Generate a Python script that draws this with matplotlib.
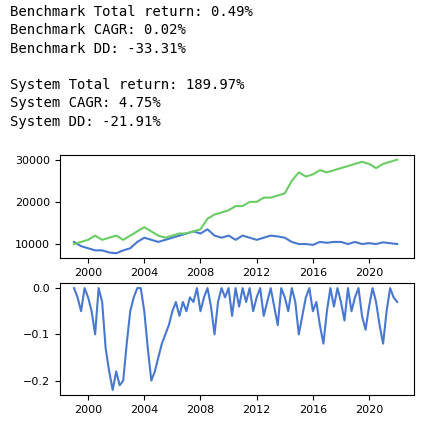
import matplotlib
matplotlib.use("Agg")
import matplotlib.pyplot as plt
import numpy as np

years = [1999 + 0.5*i for i in range(47)]
system = [10000,10500,11000,12000,11000,11500,12000,11000,12000,13000,14000,13000,12000,11500,12000,12500,
          12500,13000,13500,16000,17000,17500,18000,19000,19000,20000,20000,21000,21000,21500,22000,25000,
          27000,26000,26500,27500,27000,27500,28000,28500,29000,29500,29000,28000,29000,29500,30000]
bench = [10500,9500,9000,8500,8500,8000,7800,8500,9000,10500,11500,11000,10500,11000,11500,12000,
         12500,13000,12500,13500,12000,11500,12000,11000,12000,11500,11000,11500,12000,11800,11500,10500,
         10000,10000,9800,10500,10300,10500,10500,10000,10500,10000,10200,10000,10400,10200,10000]
dd_years = [1999 + 0.25*i for i in range(93)]
dd = [0,-0.02,-0.05,0,-0.02,-0.05,-0.10,0,-0.03,-0.13,-0.18,-0.22,-0.18,-0.21,-0.20,-0.12,
      -0.05,-0.02,0,0,-0.05,-0.13,-0.20,-0.18,-0.15,-0.12,-0.10,-0.08,-0.05,-0.03,-0.06,-0.03,
      -0.05,-0.02,-0.03,0,-0.05,-0.02,0,-0.04,-0.10,-0.03,0,-0.02,0,-0.06,0,-0.04,
      0,-0.03,0,-0.05,-0.02,0,-0.06,-0.03,0,-0.04,-0.08,0,-0.02,-0.05,0,-0.03,
      -0.10,-0.06,-0.02,0,-0.05,-0.03,-0.08,-0.12,-0.05,0,-0.04,0,-0.03,-0.07,0,-0.05,
      -0.02,0,-0.06,-0.09,-0.04,0,-0.03,-0.08,-0.12,-0.05,0,-0.02,-0.03]
texts = ["Benchmark Total return: 0.49%", "Benchmark CAGR: 0.02%", "Benchmark DD: -33.31%", "",
         "System Total return: 189.97%", "System CAGR: 4.75%", "System DD: -21.91%"]

fig = plt.figure(figsize=(4.48, 4.29), dpi=100)
for i, t in enumerate(texts):
    fig.text(10/448, 1 - (12 + 18.3*i)/429, t, family="DejaVu Sans Mono", fontsize=10, va="center")

blue, green = "#4878d0", "#6acc64"
ax1 = fig.add_axes([60/448, 1-258/429, 354/448, 103/429])
ax1.plot(years, bench, color=blue, lw=1.5)
ax1.plot(years, system, color=green, lw=1.5)
ax1.set_yticks([10000, 20000, 30000])
ax2 = fig.add_axes([60/448, 1-395/429, 354/448, 112/429])
ax2.plot(dd_years, dd, color=blue, lw=1.5)
ax2.set_yticks([0.0, -0.1, -0.2])
for ax in (ax1, ax2):
    ax.set_xlim(1998, 2023.2)
    ax.set_xticks([2000, 2004, 2008, 2012, 2016, 2020])
    ax.tick_params(labelsize=8)
fig.savefig("out.png", dpi=100)
